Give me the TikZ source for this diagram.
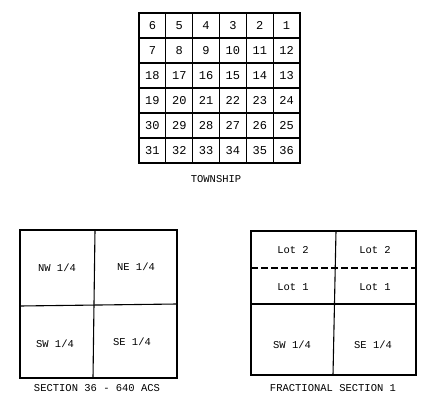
\documentclass[tikz,border=0pt]{standalone}
\usepackage{fontspec}
\setmonofont{Liberation Mono}
\begin{document}
\begin{tikzpicture}[x=1pt,y=-1pt,
  line width=1.1pt,
  cell/.style={draw, minimum width=26.83pt, minimum height=25pt, inner sep=0pt, font=\ttfamily\fontsize{12}{12}\selectfont},
  quarter/.style={inner sep=0pt, font=\ttfamily\fontsize{10.5}{10.5}\selectfont},
  caption/.style={inner sep=0pt, font=\ttfamily\fontsize{10.5}{10.5}\selectfont}]
\useasboundingbox (0,0) rectangle (433,401);
% Township
\foreach \r in {0,...,5}{
  \foreach \c in {0,...,5}{
    \pgfmathtruncatemacro{\n}{mod(\r,2)==0 ? 6*\r+6-\c : 6*\r+1+\c}
    \node[cell] (t\n) at ({139+26.833*(\c+0.5)},{13+25*(\r+0.5)}) {\n};
  }
}
\draw[line width=1.4pt] (t6.north west) rectangle (t36.south east);
\node[caption] (township) at (216,179) {TOWNSHIP};
% Section 36
\node[draw, minimum width=157pt, minimum height=148pt, inner sep=0pt] (sec) at (98.5,304) {};
\coordinate (sv1) at (95,230);
\coordinate (sv2) at (93,378);
\coordinate (sh1) at (20,306);
\coordinate (sh2) at (177,304);
\draw (sv1) -- (sv2);
\draw (sh1) -- (sh2);
\node[quarter] (nw) at (57,268) {NW 1/4};
\node[quarter] (ne) at (136,267) {NE 1/4};
\node[quarter] (sw) at (55,344) {SW 1/4};
\node[quarter] (se) at (132,342) {SE 1/4};
\node[caption] (seccap) at (97,388) {SECTION 36 - 640 ACS};
% Fractional section 1
\node[draw, minimum width=165pt, minimum height=144pt, inner sep=0pt] (frac) at (333.5,303) {};
\coordinate (fv1) at (336,231);
\coordinate (fv2) at (333,375);
\coordinate (fd1) at (251,268);
\coordinate (fd2) at (416,268);
\coordinate (fh1) at (251,304);
\coordinate (fh2) at (416,304);
\draw (fv1) -- (fv2);
\draw[dash pattern=on 7pt off 3pt] (fd1) -- (fd2);
\draw (fh1) -- (fh2);
\node[quarter] (l2a) at (293,250) {Lot 2};
\node[quarter] (l2b) at (375,250) {Lot 2};
\node[quarter] (l1a) at (293,287) {Lot 1};
\node[quarter] (l1b) at (375,287) {Lot 1};
\node[quarter] (fsw) at (292,345) {SW 1/4};
\node[quarter] (fse) at (373,345) {SE 1/4};
\node[caption] (fraccap) at (333,388) {FRACTIONAL SECTION 1};
\end{tikzpicture}
\end{document}
